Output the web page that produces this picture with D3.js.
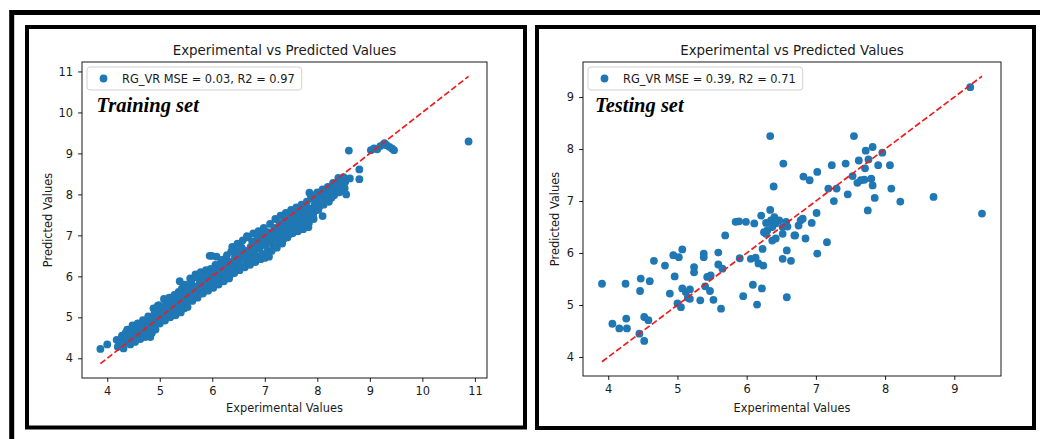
<!DOCTYPE html>
<html>
<head>
<meta charset="utf-8">
<script src="https://cdn.jsdelivr.net/npm/d3@7"></script>
<style>
  body { margin: 0; background: #fff; }
  svg { display: block; }
</style>
</head>
<body>
<svg id="chart" width="1040" height="439"></svg>
<script>
// experimental vs predicted, training set
const trainPoints = [
  [3.87,4.23],[4.00,4.34],
  [4.18,4.45],[4.22,4.30],[4.25,4.38],[4.20,4.28],
  [4.28,4.55],[4.31,4.24],[4.33,4.42],[4.30,4.33],[4.35,4.62],
  [4.38,4.70],[4.40,4.50],[4.42,4.38],[4.45,4.60],[4.44,4.34],
  [4.48,4.80],[4.50,4.45],[4.52,4.68],[4.55,4.55],[4.53,4.40],
  [4.58,4.85],[4.60,4.72],[4.62,4.58],[4.63,4.47],[4.65,4.64],
  [4.68,4.93],[4.70,4.80],[4.72,4.52],[4.73,4.68],[4.75,4.57],
  [4.78,5.02],[4.80,4.88],[4.82,4.52],[4.83,4.75],[4.85,4.62],[4.86,4.95],
  [4.88,5.22],[4.90,5.10],[4.92,4.70],[4.93,4.85],[4.95,5.00],[4.96,5.28],
  [4.98,5.30],[5.00,4.85],[5.02,5.15],[5.03,4.95],[5.05,5.05],[5.06,5.25],
  [5.08,5.45],[5.10,4.92],[5.12,5.32],[5.13,5.05],[5.15,5.18],[5.16,5.40],
  [5.18,5.48],[5.20,5.00],[5.22,5.30],[5.23,5.12],[5.25,5.22],[5.27,5.42],
  [5.28,5.55],[5.30,5.05],[5.32,5.35],[5.33,5.18],[5.35,5.45],[5.36,5.62],
  [5.38,5.88],[5.40,5.12],[5.42,5.70],[5.43,5.30],[5.45,5.48],[5.46,5.60],[5.47,5.22],
  [5.48,5.80],[5.50,5.38],[5.52,5.65],[5.53,5.25],[5.55,5.52],[5.56,5.72],[5.58,5.95],
  [5.60,5.88],[5.62,5.40],[5.63,5.62],[5.65,5.48],[5.66,5.75],[5.68,6.05],
  [5.70,5.98],[5.72,5.48],[5.73,5.70],[5.75,5.58],[5.76,5.85],[5.78,6.10],
  [5.80,6.02],[5.82,5.58],[5.83,5.80],[5.85,5.68],[5.86,5.92],[5.88,6.15],
  [5.90,6.05],[5.92,5.65],[5.93,5.88],[5.95,6.50],[5.96,5.75],[5.97,6.18],
  [5.99,6.50],[6.00,5.98],[6.02,5.72],[6.03,6.10],[6.05,5.85],[6.06,6.28],
  [6.08,6.48],[6.10,6.02],[6.12,5.80],[6.13,6.18],[6.15,5.92],[6.16,6.32],
  [6.18,6.40],[6.20,6.08],[6.22,5.88],[6.23,6.25],[6.25,6.00],[6.26,6.45],
  [6.28,6.52],[6.30,6.15],[6.32,5.95],[6.33,6.35],[6.35,6.05],[6.36,6.60],
  [6.38,6.72],[6.40,6.22],[6.42,6.08],[6.43,6.45],[6.45,6.30],[6.46,6.62],
  [6.48,6.80],[6.50,6.35],[6.52,6.15],[6.53,6.55],[6.55,6.25],[6.56,6.70],
  [6.58,6.88],[6.60,6.45],[6.62,6.22],[6.63,6.62],[6.65,6.35],[6.66,6.98],
  [6.68,6.95],[6.70,6.50],[6.72,6.28],[6.73,6.72],[6.75,6.40],[6.76,6.85],
  [6.78,7.05],[6.80,6.58],[6.82,6.35],[6.83,6.80],[6.85,6.48],[6.86,6.95],
  [6.88,7.10],[6.90,6.68],[6.92,6.42],[6.93,6.88],[6.95,6.55],[6.96,7.02],
  [6.98,7.18],[7.00,6.45],[7.02,6.75],[7.03,6.95],[7.05,6.60],[7.06,7.08],[7.08,6.48],
  [7.10,7.28],[7.12,6.85],[7.13,6.62],[7.15,7.05],[7.16,6.72],[7.18,7.18],
  [7.20,7.40],[7.22,6.95],[7.23,6.70],[7.25,7.15],[7.26,6.82],[7.28,7.30],
  [7.30,7.48],[7.32,7.05],[7.33,6.80],[7.35,7.25],[7.36,6.92],[7.38,7.38],
  [7.40,7.55],[7.42,7.12],[7.43,6.95],[7.45,7.35],[7.46,7.02],[7.48,7.45],
  [7.50,7.62],[7.52,7.22],[7.53,7.05],[7.55,7.42],[7.56,7.12],[7.58,7.55],
  [7.60,7.68],[7.62,7.28],[7.63,7.10],[7.65,7.50],[7.66,7.20],[7.68,7.60],
  [7.70,7.75],[7.72,7.35],[7.73,7.15],[7.75,7.58],[7.76,7.25],[7.78,7.68],
  [7.80,7.82],[7.82,7.42],[7.83,7.20],[7.85,8.04],[7.86,7.65],[7.88,7.95],[7.84,7.30],
  [7.90,7.90],[7.92,7.50],[7.93,7.40],[7.95,7.75],[7.96,7.60],[7.98,8.00],
  [8.00,8.05],[8.02,7.62],[8.03,7.85],[8.05,7.72],[8.06,7.95],[8.10,7.47],
  [8.10,8.12],[8.12,7.75],[8.13,7.95],[8.15,7.85],[8.17,8.05],
  [8.20,8.18],[8.22,7.82],[8.24,8.00],[8.25,8.18],[8.27,7.92],
  [8.30,8.28],[8.32,7.98],[8.33,8.12],[8.35,8.25],[8.37,8.05],
  [8.40,8.40],[8.42,8.05],[8.44,8.20],[8.45,8.32],[8.47,8.12],
  [8.50,8.42],[8.52,8.15],[8.53,8.30],[8.55,8.00],
  [8.60,9.07],[8.80,8.61],[8.80,8.37],[8.62,8.39],
  [9.02,9.08],[9.08,9.12],[9.14,9.10],[9.20,9.18],[9.26,9.22],
  [9.32,9.20],[9.37,9.16],[9.42,9.12],[9.46,9.08],[9.28,9.25],
  [10.88,9.29],
  // inner part of the band
  [4.57,4.62],[4.77,4.75],[4.97,4.95],[5.17,5.15],[5.37,5.35],[5.57,5.50],
  [5.77,5.72],[5.97,5.90],[6.17,6.10],[6.37,6.25],[6.57,6.45],[6.77,6.62],
  [6.97,6.82],[7.17,6.95],[7.37,7.15],[7.57,7.32],[7.77,7.45],[7.97,7.80],
  [8.17,7.95],[8.37,8.18],
  [4.67,4.72],[4.87,4.80],[5.07,5.10],[5.27,5.28],[5.47,5.40],[5.67,5.62],
  [5.87,5.80],[6.07,6.15],[6.27,6.30],[6.47,6.52],[6.67,6.60],[6.87,6.75],
  [7.07,6.90],[7.27,7.05],[7.47,7.25],[7.67,7.40],[7.87,7.55],[8.07,7.85],
  [8.27,8.08]
];

// testing set
const testPoints = [
  [3.91,5.41],[4.06,4.64],[4.16,4.55],[4.26,4.74],[4.27,4.55],[4.25,5.41],
  [4.45,4.45],[4.52,4.31],[4.52,4.77],[4.58,4.71],[4.47,5.51],[4.46,5.27],
  [4.60,5.46],[4.66,5.85],[4.82,5.76],[4.89,5.22],[4.94,5.96],[4.96,5.55],
  [5.02,5.92],[5.07,6.07],[5.00,5.03],[5.05,4.96],[5.07,5.32],[5.12,5.25],
  [5.15,5.14],[5.18,5.30],[5.18,5.12],[5.24,5.73],[5.24,5.63],[5.33,5.09],
  [5.38,5.99],[5.38,5.92],[5.40,5.36],[5.43,5.54],[5.48,5.57],[5.47,5.27],
  [5.52,5.10],[5.59,6.01],[5.59,5.78],[5.65,5.70],[5.63,4.93],[5.69,6.34],
  [5.84,6.60],[5.90,5.90],[5.95,5.17],[5.99,6.60],[6.06,5.89],[6.09,5.39],
  [6.11,6.57],[6.13,5.91],[6.15,5.01],[6.17,5.80],[6.23,6.08],[6.24,5.76],
  [6.22,5.32],[6.28,6.37],[6.37,6.24],[6.42,6.28],[6.52,5.89],[6.58,6.05],
  [6.58,5.15],[6.64,5.85],[6.70,6.34],[6.85,6.28],[7.02,5.99],[7.16,6.21],
  [6.94,6.58],[6.75,6.53],[6.34,8.25],[7.55,8.25],[6.53,7.72],[6.39,7.28],
  [6.82,7.47],[6.91,7.40],[7.02,7.56],[7.23,7.69],[7.18,7.24],[7.30,7.24],
  [7.26,7.00],[7.43,7.72],[7.46,7.13],[7.62,7.78],[7.72,7.97],[7.82,8.04],
  [7.96,7.93],[7.53,7.48],[7.60,7.35],[7.65,7.40],[7.70,7.41],[7.71,7.63],
  [7.80,7.43],[7.82,7.30],[7.76,7.80],[7.90,7.69],[8.07,7.69],[8.09,7.24],
  [7.85,7.06],[8.22,6.99],[7.75,6.82],[7.01,6.77],[6.34,6.83],[6.21,6.72],
  [5.89,6.61],[8.70,7.08],[9.23,9.19],[9.40,6.76],
  [6.28,6.58],[6.35,6.63],[6.40,6.69],[6.42,6.57],[6.47,6.63],[6.52,6.50],
  [6.57,6.60],[6.59,6.51],[6.37,6.50],[6.30,6.44],[6.25,6.40],[6.78,6.63],
  [6.81,6.66],[6.52,6.37],[6.69,6.34]
];

const trainTicks = [4, 5, 6, 7, 8, 9, 10, 11];
const testTicks = [4, 5, 6, 7, 8, 9];
const trainLegend = "RG_VR MSE = 0.03, R2 = 0.97";
const testLegend = "RG_VR MSE = 0.39, R2 = 0.71";
const titleText = "Experimental vs Predicted Values";
const xLabelText = "Experimental Values";
const yLabelText = "Predicted Values";

const FONT = "DejaVu Sans";
const dotColor = "#1f77b4";
const dotR = 3.9;

const svg = d3.select("#chart");

// big outer frame, runs off the right and bottom of the picture
svg.append("rect")
    .attr("x", 11.7).attr("y", 12.5)
    .attr("width", 1100).attr("height", 500)
    .attr("fill", "none").attr("stroke", "#000").attr("stroke-width", 5);

const panels = [
    {
        points: trainPoints, ticks: trainTicks, legend: trainLegend, tag: "Training set",
        frame: { x: 27, y: 27, w: 498, h: 400.5 },
        axes: { left: 82, right: 487, top: 62, bottom: 378 },
        tagX: 14.5, yLabelX: 52
    },
    {
        points: testPoints, ticks: testTicks, legend: testLegend, tag: "Testing set",
        frame: { x: 537, y: 27, w: 497, h: 401 },
        axes: { left: 583, right: 1001, top: 62, bottom: 376 },
        tagX: 12, yLabelX: 559
    }
];

function pad(lo, hi) {
    const m = (hi - lo) * 0.05;
    return [lo - m, hi + m];
}

function drawPanel(p) {
    const a = p.axes;
    const g = svg.append("g");

    g.append("rect")
        .attr("x", p.frame.x).attr("y", p.frame.y)
        .attr("width", p.frame.w).attr("height", p.frame.h)
        .attr("fill", "#fff").attr("stroke", "#000").attr("stroke-width", 4);

    const [xmin, xmax] = d3.extent(p.points, d => d[0]);
    const [ymin, ymax] = d3.extent(p.points, d => d[1]);

    const x = d3.scaleLinear()
        .domain(pad(xmin, xmax))
        .range([a.left, a.right]);
    const y = d3.scaleLinear()
        .domain(pad(Math.min(xmin, ymin), Math.max(xmax, ymax)))
        .range([a.bottom, a.top]);

    // points
    g.append("g")
        .selectAll("circle")
        .data(p.points)
        .join("circle")
        .attr("cx", d => x(d[0]))
        .attr("cy", d => y(d[1]))
        .attr("r", dotR)
        .attr("fill", dotColor);

    // ideal line from min to max experimental value
    g.append("line")
        .attr("x1", x(xmin)).attr("y1", y(xmin))
        .attr("x2", x(xmax)).attr("y2", y(xmax))
        .attr("stroke", "#ee1c1c")
        .attr("stroke-width", 1.7)
        .attr("stroke-dasharray", "6.2,2.7");

    // axes
    const xAxis = g.append("g")
        .attr("transform", `translate(0,${a.bottom})`)
        .call(d3.axisBottom(x).tickValues(p.ticks).tickSize(3.9).tickPadding(5).tickFormat(d3.format("d")));
    const yAxis = g.append("g")
        .attr("transform", `translate(${a.left},0)`)
        .call(d3.axisLeft(y).tickValues(p.ticks).tickSize(3.9).tickPadding(5).tickFormat(d3.format("d")));

    [xAxis, yAxis].forEach(ax => {
        ax.attr("font-family", FONT).attr("font-size", 11.4);
        ax.select(".domain").remove();
        ax.selectAll("line").attr("stroke", "#000").attr("stroke-width", 0.9);
        ax.selectAll("text").attr("fill", "#1a1a1a");
    });

    g.append("rect")
        .attr("x", a.left).attr("y", a.top)
        .attr("width", a.right - a.left).attr("height", a.bottom - a.top)
        .attr("fill", "none").attr("stroke", "#000").attr("stroke-width", 0.9);

    // title and axis labels
    g.append("text")
        .attr("x", (a.left + a.right) / 2).attr("y", 55)
        .attr("text-anchor", "middle")
        .attr("font-family", FONT).attr("font-size", 13.4).attr("fill", "#1a1a1a")
        .text(titleText);

    g.append("text")
        .attr("x", (a.left + a.right) / 2).attr("y", 411.5)
        .attr("text-anchor", "middle")
        .attr("font-family", FONT).attr("font-size", 11.4).attr("fill", "#1a1a1a")
        .text(xLabelText);

    g.append("text")
        .attr("transform", `translate(${p.yLabelX},${(a.top + a.bottom) / 2}) rotate(-90)`)
        .attr("text-anchor", "middle")
        .attr("font-family", FONT).attr("font-size", 11.4).attr("fill", "#1a1a1a")
        .text(yLabelText);

    // legend
    const lg = g.append("g").attr("transform", `translate(${a.left + 5},${a.top + 5})`);
    const box = lg.append("rect")
        .attr("height", 23).attr("rx", 3)
        .attr("fill", "#fff").attr("fill-opacity", 0.8)
        .attr("stroke", "#ccc").attr("stroke-width", 0.9);
    lg.append("circle").attr("cx", 16.5).attr("cy", 11.5).attr("r", dotR).attr("fill", dotColor);
    const lt = lg.append("text")
        .attr("x", 35).attr("y", 15.6)
        .attr("font-family", FONT).attr("font-size", 11.4).attr("fill", "#1a1a1a")
        .text(p.legend);
    box.attr("width", 35 + lt.node().getComputedTextLength() + 7);

    // set name
    g.append("text")
        .attr("x", a.left + p.tagX).attr("y", 111.7)
        .attr("font-family", "Liberation Serif").attr("font-size", 20.5)
        .attr("font-weight", "bold").attr("font-style", "italic")
        .attr("fill", "#000")
        .text(p.tag);
}

panels.forEach(drawPanel);
</script>
</body>
</html>
